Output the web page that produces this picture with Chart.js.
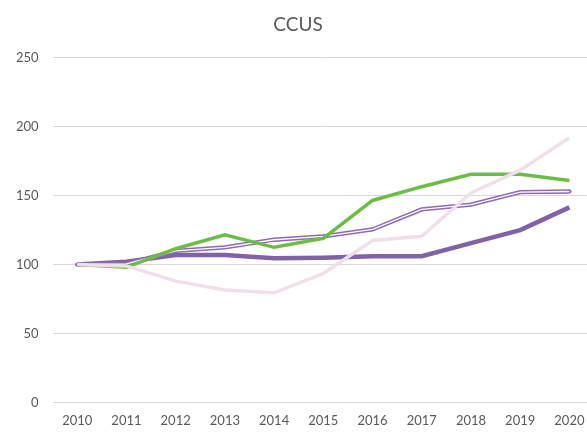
<!DOCTYPE html>
<html>
<head>
<meta charset="utf-8">
<script src="https://cdn.jsdelivr.net/npm/chart.js@4"></script>
<style>
  html, body { margin: 0; padding: 0; background: #fff; overflow: hidden; }
  #wrap { width: 594px; height: 432px; }
</style>
</head>
<body>
<div id="wrap"><canvas id="chart"></canvas></div>
<script>
const years = ["2010", "2011", "2012", "2013", "2014", "2015", "2016", "2017", "2018", "2019", "2020"];

const greenSeries = [100, 98, 111.5, 121.5, 112.5, 119, 146.5, 156.5, 165.5, 165.5, 161];
const pinkSeries = [100, 99, 88, 81.5, 79.5, 93.5, 117.5, 120.5, 152, 168.5, 192];
const purpleSeries = [100, 102, 107, 107, 104.5, 105, 106, 106, 115.5, 125, 141.5];
const doubleSeries = [100, 100.5, 110, 112.5, 118, 120.5, 125.5, 140, 143.5, 152.5, 153];

const textColor = "#595959";
const font = "Lato, 'DejaVu Sans', sans-serif";

const ctx = document.getElementById("chart");

new Chart(ctx, {
  type: "line",
  data: {
    labels: years,
    datasets: [
      {
        label: "pink",
        data: pinkSeries,
        borderColor: "#f0dfea",
        borderWidth: 3.5,
        pointRadius: 0,
        order: 0,
      },
      {
        label: "green",
        data: greenSeries,
        borderColor: "#6cbd45",
        borderWidth: 3.5,
        pointRadius: 0,
        order: 1,
      },
      {
        label: "double inner",
        data: doubleSeries,
        borderColor: "#ffffff",
        borderWidth: 1.3,
        pointRadius: 0,
        order: 2,
      },
      {
        label: "double outer",
        data: doubleSeries,
        borderColor: "#8f6bb3",
        borderWidth: 4.3,
        borderCapStyle: "round",
        pointRadius: 0,
        order: 3,
      },
      {
        label: "purple",
        data: purpleSeries,
        borderColor: "#8062a8",
        borderWidth: 4.5,
        pointRadius: 0,
        order: 4,
      },
    ],
  },
  options: {
    responsive: true,
    maintainAspectRatio: false,
    animation: false,
    layout: {
      padding: { left: 2, right: 0, top: 6, bottom: 0 },
    },
    plugins: {
      legend: { display: false },
      tooltip: { enabled: false },
      title: {
        display: true,
        text: "CCUS",
        color: textColor,
        font: { family: font, size: 19, weight: "normal" },
        padding: { top: 7, bottom: 22 },
      },
    },
    scales: {
      x: {
        offset: true,
        grid: { display: false },
        border: { display: false },
        ticks: {
          color: textColor,
          font: { family: font, size: 13 },
          maxRotation: 0,
          autoSkip: false,
          padding: 3,
        },
      },
      y: {
        min: 0,
        max: 250,
        ticks: {
          stepSize: 50,
          color: textColor,
          font: { family: font, size: 13 },
          padding: 14,
        },
        grid: {
          color: "#d9d9d9",
          lineWidth: 1,
          drawTicks: false,
        },
        border: { display: false },
      },
    },
  },
});
</script>
</body>
</html>
